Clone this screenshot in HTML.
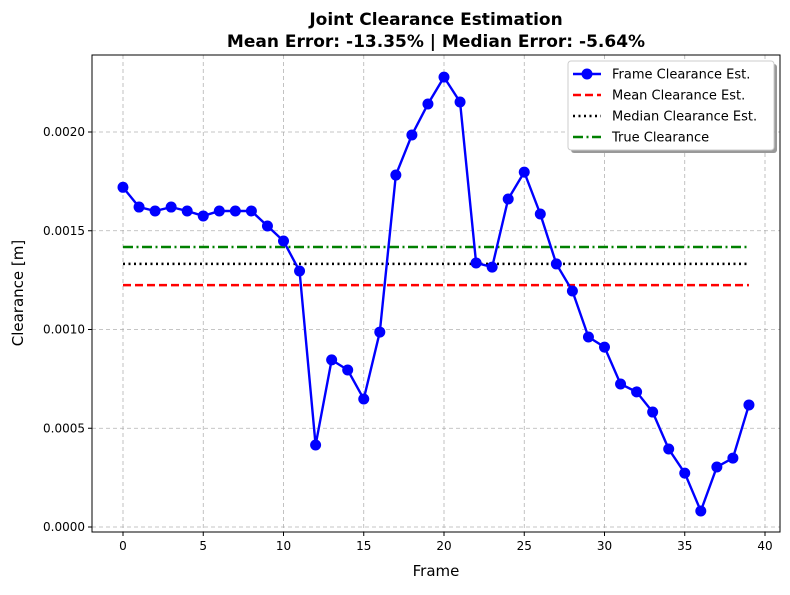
<!DOCTYPE html>
<html><head><meta charset="utf-8"><style>
body{margin:0;background:#fff;font-family:"Liberation Sans","DejaVu Sans",sans-serif;}
svg text{font-family:"DejaVu Sans","Liberation Sans",sans-serif;}
</style></head><body>
<svg id="chart" width="790" height="590" xmlns="http://www.w3.org/2000/svg"></svg>
<script>
const frames=[0,1,2,3,4,5,6,7,8,9,10,11,12,13,14,15,16,17,18,19,20,21,22,23,24,25,26,27,28,29,30,31,32,33,34,35,36,37,38,39];
const clearance=[0.00172,0.00162,0.00160,0.00162,0.00160,0.001575,0.00160,0.00160,0.00160,0.001524,0.001448,0.001296,0.000415,0.000846,0.000795,0.000648,0.000987,0.001782,0.001985,0.002142,0.002278,0.002152,0.001337,0.001316,0.001661,0.001797,0.001585,0.001332,0.001195,0.000962,0.000911,0.000724,0.000684,0.000582,0.000395,0.000273,0.000081,0.000304,0.000349,0.000618];
const meanVal=0.001225, medianVal=0.001332, trueVal=0.001418;
const xTicks=[0,5,10,15,20,25,30,35,40];
const yTicks=[0,0.0005,0.0010,0.0015,0.0020];
const yTickLabels=["0.0000","0.0005","0.0010","0.0015","0.0020"];

const svg=document.getElementById('chart');
const NS="http://www.w3.org/2000/svg";
const L=92,R=780,T=55,B=532;
const xs=v=>123+v*(765-123)/40;
const ys=v=>527-v*(527-132)/0.002;
function mk(tag,attrs,parent){const e=document.createElementNS(NS,tag);for(const k in attrs)e.setAttribute(k,attrs[k]);(parent||svg).appendChild(e);return e;}

xTicks.forEach(t=>{
  const g=mk('line',{x1:xs(t),x2:xs(t),y1:T,y2:B,stroke:'#a0a0a0','stroke-width':0.8,'stroke-dasharray':'4,3',opacity:0.8});
  
  
  mk('line',{x1:xs(t),x2:xs(t),y1:B,y2:B+4,stroke:'#000'});
  const tx=mk('text',{x:xs(t),y:B+18,'text-anchor':'middle','font-size':12});
  tx.textContent=t;
  
  
});
yTicks.forEach((t,i)=>{
  const g=mk('line',{x1:L,x2:R,y1:ys(t),y2:ys(t),stroke:'#a0a0a0','stroke-width':0.8,'stroke-dasharray':'4,3',opacity:0.8});
  
  
  mk('line',{x1:L-4,x2:L,y1:ys(t),y2:ys(t),stroke:'#000'});
  const tx=mk('text',{x:L-7,y:ys(t)+4,'text-anchor':'end','font-size':12});
  tx.textContent=yTickLabels[i];
  
  
});

function hline(v,color,dash,name){
  const l=mk('line',{x1:xs(frames[0]),x2:xs(frames[frames.length-1]),y1:ys(v),y2:ys(v),stroke:color,'stroke-width':2.5,'stroke-dasharray':dash});
  
  
}
hline(meanVal,'#ff0000','8,4','mean-line');
hline(medianVal,'#000','2,3.5','median-line');
hline(trueVal,'#008000','10,3.5,2,3.5','true-line');

const pts=frames.map((f,i)=>xs(f)+','+ys(clearance[i])).join(' ');
const pl=mk('polyline',{points:pts,fill:'none',stroke:'#0000ff','stroke-width':2.4});


frames.forEach((f,i)=>{
  const c=mk('circle',{cx:xs(f),cy:ys(clearance[i]),r:5.5,fill:'#0000ff'});
  
  
});

const fr=mk('rect',{x:L,y:T,width:R-L,height:B-T,fill:'none',stroke:'#000','stroke-width':1});



function txt(x,y,s,attrs,name){const t=mk('text',Object.assign({x:x,y:y},attrs));t.textContent=s;return t;}
txt(436,25,'Joint Clearance Estimation',{'text-anchor':'middle','font-size':17,'font-weight':'bold'},'chart-title');
txt(436,47,'Mean Error: -13.35% | Median Error: -5.64%',{'text-anchor':'middle','font-size':17,'font-weight':'bold'},'chart-subtitle');
txt(436,576,'Frame',{'text-anchor':'middle','font-size':15},'x-axis-title');
const yt=txt(0,0,'Clearance [m]',{'text-anchor':'middle','font-size':15},'y-axis-title');
yt.setAttribute('transform','translate(23,293) rotate(-90)');

const lg=mk('g',{});


mk('rect',{x:571,y:64,width:206,height:89,rx:3,fill:'#555',opacity:0.6},lg);
mk('rect',{x:568,y:61,width:206,height:89,rx:3,fill:'#fff',stroke:'#ccc'},lg);
const entries=[['Frame Clearance Est.','#0000ff',''],['Mean Clearance Est.','#ff0000','8,4'],['Median Clearance Est.','#000','2,3.5'],['True Clearance','#008000','10,3.5,2,3.5']];
entries.forEach((e,i)=>{
  const y=74+i*21;
  const g=mk('g',{},lg);
  
  
  mk('line',{x1:573,x2:601,y1:y,y2:y,stroke:e[1],'stroke-width':2.5,'stroke-dasharray':e[2]},g);
  if(i===0) mk('circle',{cx:587,cy:y,r:5.5,fill:'#0000ff'},g);
  const t=mk('text',{x:612,y:y+4.5,'font-size':13},g);t.textContent=e[0];
});
</script>
</body></html>
